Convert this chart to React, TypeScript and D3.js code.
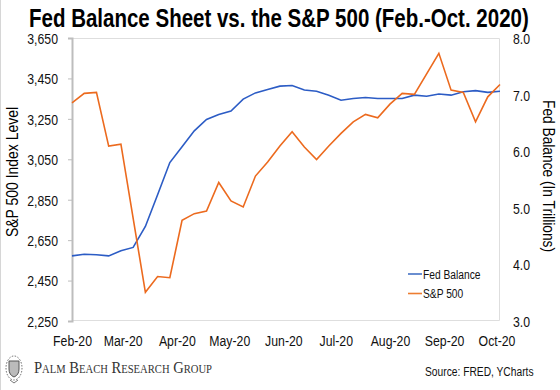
import React, { useEffect, useRef } from "react";
import * as d3 from "d3";

// weekly observations, Feb 1 - Oct 3 2020
const weeks = [
  "2020-02-01", "2020-02-08", "2020-02-15", "2020-02-22", "2020-02-29",
  "2020-03-07", "2020-03-14", "2020-03-21", "2020-03-28", "2020-04-04",
  "2020-04-11", "2020-04-18", "2020-04-25", "2020-05-02", "2020-05-09",
  "2020-05-16", "2020-05-23", "2020-05-30", "2020-06-06", "2020-06-13",
  "2020-06-20", "2020-06-27", "2020-07-04", "2020-07-11", "2020-07-18",
  "2020-07-25", "2020-08-01", "2020-08-08", "2020-08-15", "2020-08-22",
  "2020-08-29", "2020-09-05", "2020-09-12", "2020-09-19", "2020-09-26",
  "2020-10-03",
];

// Fed balance sheet, trillions
const fedBalance = [
  4.15, 4.18, 4.17, 4.15, 4.24, 4.3, 4.67, 5.23, 5.8, 6.08, 6.36, 6.56,
  6.65, 6.71, 6.92, 7.03, 7.09, 7.15, 7.16, 7.08, 7.06, 6.99, 6.9, 6.93,
  6.95, 6.93, 6.93, 6.93, 6.99, 6.97, 7.01, 6.99, 7.05, 7.07, 7.04, 7.06,
];

// S&P 500 index level (null = no vertex read at that week)
const sp500 = [
  3329, 3376, 3381, 3115, 3125, null, 2392, 2470, 2464, 2748, 2781, 2794,
  2935, 2844, 2814, 2967, 3037, 3116, 3186, 3111, 3049, 3116, 3178, 3235,
  3272, 3255, 3323, 3376, 3371, null, 3574, 3392, 3381, 3235, 3359, 3420,
];

const monthTicks = [
  "2020-02-01", "2020-03-01", "2020-04-01", "2020-05-01", "2020-06-01",
  "2020-07-01", "2020-08-01", "2020-09-01", "2020-10-01",
];
const spTicks = [2250, 2450, 2650, 2850, 3050, 3250, 3450, 3650];
const fedTicks = [3, 4, 5, 6, 7, 8];

const BLUE = "#2c5cc5";
const ORANGE = "#ec6a1e";
const SQUEEZE = "scale(0.82,1)";

export default function App() {
  const ref = useRef<SVGSVGElement>(null);

  useEffect(() => {
    const svg = d3.select(ref.current);
    svg.selectAll("*").remove();

    const left = 72, right = 500, top = 38, bottom = 321;
    const parse = d3.timeParse("%Y-%m-%d");
    const dates = weeks.map((d) => parse(d) as Date);

    const x = d3.scaleTime()
      .domain([dates[0], dates[dates.length - 1]])
      .range([left, right]);
    const ySP = d3.scaleLinear().domain([2250, 3650]).range([bottom, top]);
    const yFed = d3.scaleLinear().domain([3, 8]).range([bottom, top]);

    svg.append("line")
      .attr("x1", 0.5).attr("x2", 0.5).attr("y1", 0).attr("y2", 390)
      .attr("stroke", "#d6d6d6");

    const font = "'Liberation Sans', Arial, sans-serif";

    // title (condensed)
    svg.append("text")
      .attr("transform", `translate(29,27) scale(0.82,1)`)
      .attr("font-family", font)
      .attr("font-weight", "bold")
      .attr("font-size", 25)
      .text("Fed Balance Sheet vs. the S&P 500 (Feb.-Oct. 2020)");

    // plot frame (top, right, bottom)
    svg.append("path")
      .attr("d", `M${left},${top + 0.5}H${right - 0.5}V${bottom - 0.5}H${left}`)
      .attr("fill", "none")
      .attr("stroke", "#dedede");

    // left axis
    const yAxisL = svg.append("g")
      .attr("transform", `translate(${left},0)`)
      .call(d3.axisLeft(ySP).tickValues(spTicks).tickFormat(d3.format(",")).tickSize(4));
    yAxisL.select(".domain").attr("stroke", "#bdbdbd").attr("stroke-width", 2);
    yAxisL.selectAll(".tick line").attr("stroke", "#bdbdbd");
    yAxisL.selectAll(".tick text")
      .attr("x", 0).attr("dy", "0.36em")
      .attr("transform", `translate(-14,0) ${SQUEEZE}`)
      .attr("font-family", font).attr("font-size", 15).attr("fill", "#111");

    // right axis
    const yAxisR = svg.append("g")
      .attr("transform", `translate(${right},0)`)
      .call(d3.axisRight(yFed).tickValues(fedTicks).tickFormat(d3.format(".1f")).tickSize(0));
    yAxisR.select(".domain").remove();
    yAxisR.selectAll(".tick text")
      .attr("x", 0).attr("dy", "0.36em")
      .attr("transform", `translate(13,0) ${SQUEEZE}`)
      .attr("font-family", font).attr("font-size", 15).attr("fill", "#111");

    // bottom axis
    const xAxis = svg.append("g")
      .attr("transform", `translate(0,${bottom})`)
      .call(d3.axisBottom(x)
        .tickValues(monthTicks.map((d) => parse(d) as Date))
        .tickFormat(d3.timeFormat("%b-%y") as any)
        .tickSize(0));
    xAxis.select(".domain").remove();
    xAxis.selectAll(".tick text")
      .attr("y", 0).attr("dy", 0)
      .attr("transform", `translate(0,25) ${SQUEEZE}`)
      .attr("font-family", font).attr("font-size", 15).attr("fill", "#111");

    // lines
    const fedPts = dates.map((d, i) => [x(d), yFed(fedBalance[i])] as [number, number]);
    const spPts = dates
      .map((d, i) => ({ d, v: sp500[i] }))
      .filter((p) => p.v != null)
      .map((p) => [x(p.d), ySP(p.v as number)] as [number, number]);

    svg.append("path")
      .attr("d", d3.line()(fedPts))
      .attr("fill", "none").attr("stroke", BLUE).attr("stroke-width", 1.6);
    svg.append("path")
      .attr("d", d3.line()(spPts))
      .attr("fill", "none").attr("stroke", ORANGE).attr("stroke-width", 1.6);

    // axis titles
    svg.append("text")
      .attr("transform", "translate(18,172) rotate(-90)")
      .attr("text-anchor", "middle")
      .attr("font-family", font).attr("font-size", 16)
      .attr("textLength", 130).attr("lengthAdjust", "spacingAndGlyphs")
      .text("S&P 500 Index Level");
    svg.append("text")
      .attr("transform", "translate(543,176) rotate(90)")
      .attr("text-anchor", "middle")
      .attr("font-family", font).attr("font-size", 16)
      .attr("textLength", 152).attr("lengthAdjust", "spacingAndGlyphs")
      .text("Fed Balance (In Trillions)");

    // legend
    const legend = [
      { name: "Fed Balance", color: "#4472c4", y: 274 },
      { name: "S&P 500", color: "#ed7d31", y: 293.5 },
    ];
    const lg = svg.append("g").selectAll("g").data(legend).enter().append("g")
      .attr("transform", (d) => `translate(408,${d.y})`);
    lg.append("line").attr("x1", 0).attr("x2", 14)
      .attr("stroke", (d) => d.color).attr("stroke-width", 1.6);
    lg.append("text")
      .attr("transform", `translate(15,4.5) ${SQUEEZE}`)
      .attr("font-family", font).attr("font-size", 12.5).attr("fill", "#111")
      .text((d) => d.name);

    // source
    svg.append("text")
      .attr("transform", `translate(425,376) ${SQUEEZE}`)
      .attr("font-family", font).attr("font-size", 12.5).attr("fill", "#111")
      .text("Source: FRED, YCharts");

    // logo crest
    const crest = svg.append("g").attr("transform", "translate(14,368)")
      .attr("fill", "none").attr("stroke", "#666");
    crest.append("ellipse").attr("rx", 8).attr("ry", 12).attr("stroke-dasharray", "1.5 1.5");
    crest.append("path")
      .attr("d", "M-5,-7 H5 V1 Q5,7 0,9 Q-5,7 -5,1 Z")
      .attr("fill", "#bbb").attr("stroke", "#555");
    crest.append("path").attr("d", "M-4,12 L0,15 L4,12").attr("stroke", "#777");

    // logo text (small caps)
    svg.append("text")
      .attr("x", 34).attr("y", 373)
      .attr("font-family", "'Liberation Serif', 'Times New Roman', serif")
      .attr("font-size", 16.5)
      .attr("font-variant", "small-caps")
      .attr("fill", "#333")
      .attr("textLength", 178).attr("lengthAdjust", "spacingAndGlyphs")
      .text("Palm Beach Research Group");
  }, []);

  return (
    <div style={{ position: "absolute", left: 0, top: 0 }}>
      <svg ref={ref} width={560} height={390} style={{ display: "block", background: "#fff" }} />
    </div>
  );
}
